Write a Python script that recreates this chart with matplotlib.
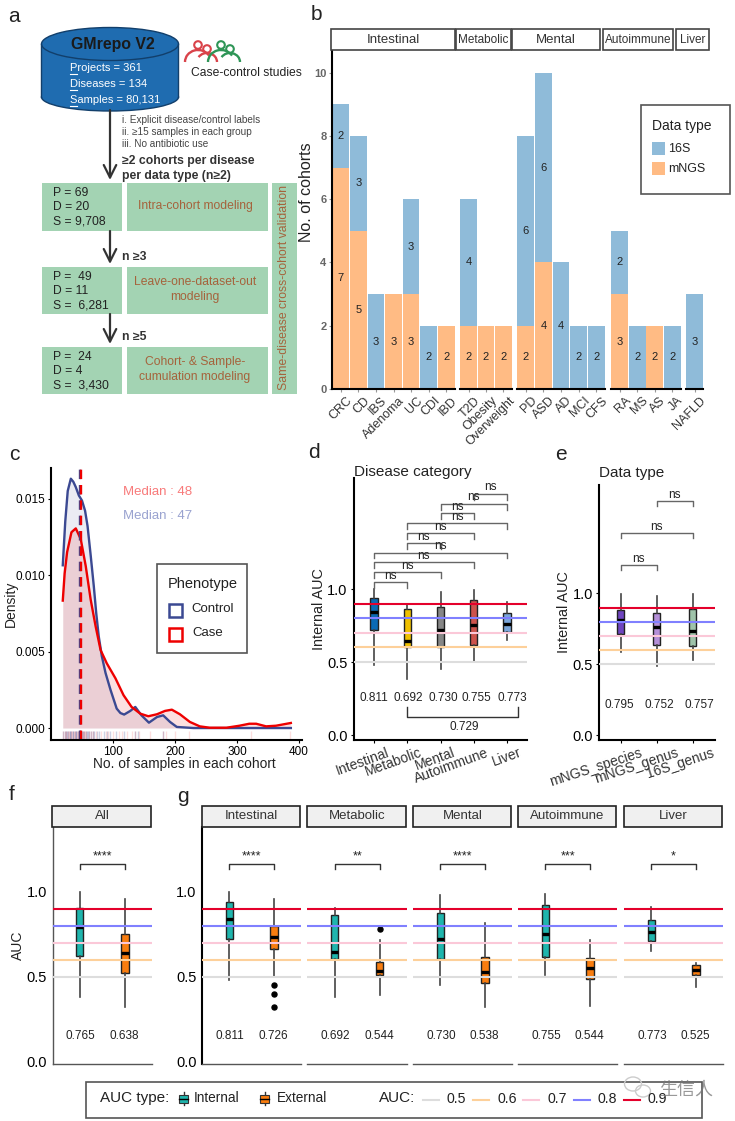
import matplotlib
matplotlib.use("Agg")
import matplotlib.pyplot as plt
from matplotlib.patches import Rectangle, Ellipse, Circle, Arc
from matplotlib.transforms import ScaledTranslation

plt.rcParams['font.family'] = ['Liberation Sans', 'Noto Sans CJK SC', 'DejaVu Sans']

W, H = 735, 1121

# ---- panel b data
b_facets = ['Intestinal', 'Metabolic', 'Mental', 'Autoimmune', 'Liver']
b_diseases = [['CRC', 'CD', 'IBS', 'Adenoma', 'UC', 'CDI', 'IBD'],
              ['T2D', 'Obesity', 'Overweight'],
              ['PD', 'ASD', 'AD', 'MCI', 'CFS'],
              ['RA', 'MS', 'AS', 'JA'],
              ['NAFLD']]
b_16s = [[2, 3, 3, 0, 3, 2, 0], [4, 0, 0], [6, 6, 4, 2, 2], [2, 2, 0, 2], [3]]
b_mngs = [[7, 5, 0, 3, 3, 0, 2], [2, 2, 2], [2, 4, 0, 0, 0], [3, 0, 2, 0], [0]]

# ---- panel c data
ctrl_x = [19, 23, 27, 32, 36, 40, 45, 50, 55, 59, 64, 69, 73, 77, 82, 88, 96, 106, 112, 118, 128, 136,
          146, 158, 171, 181, 192, 203, 230, 300, 387]
ctrl_y = [.01064, .0135, .0155, .0163, .0161, .01575, .0152, .01487, .0142, .0132, .0113, .0093, .0075, .006,
          .0047, .0036, .0025, .00127, .00098, .00088, .00112, .00138, .00083, .00035, .00072, .00083, .0004,
          .00007, 0, 0, 0]
case_x = [19, 22, 26, 33, 40, 48, 56, 64, 72, 80, 90, 104, 117, 130, 144, 157, 171, 184, 195, 208, 224, 240,
          256, 283, 304, 320, 331, 347, 363, 387]
case_y = [.00833, .0101, .0115, .0128, .01305, .01235, .0106, .0084, .00665, .0051, .00423, .00325, .00215,
          .00138, .00094, .00077, .0009, .00112, .0012, .0009, .0004, .00011, .00002, .00002, .00015, .00028,
          .00028, .00011, .00015, .00033]
rug_ctrl = [20, 22, 24, 26, 28, 30, 31, 33, 35, 36, 38, 40, 41, 43, 45, 46, 47, 48, 50, 52, 54, 56, 58, 60, 62,
            65, 68, 70, 75, 78, 85, 90, 95, 105, 118, 135, 140, 180]
rug_case = [20, 23, 25, 27, 29, 32, 34, 37, 39, 42, 44, 47, 48, 49, 51, 53, 55, 57, 61, 64, 67, 72, 80, 88, 92,
            100, 110, 115, 122, 130, 135, 142, 160, 180, 186, 200, 222, 322, 385]

# ---- panel d / e data (whislo, q1, med, q3, whishi)
d_labels = ['Intestinal', 'Metabolic', 'Mental', 'Autoimmune', 'Liver']
d_stats = [[.48, .72, .842, .938, 1.0], [.382, .60, .643, .863, .90], [.45, .60, .718, .876, .98],
           [.51, .615, .753, .924, .99], [.652, .707, .76, .835, .91]]
d_colors = ['#0a6ab5', '#efc000', '#868686', '#cd534c', '#7aa6dc']
d_means = ['0.811', '0.692', '0.730', '0.755', '0.773']
d_pairs = [(0, 1), (0, 2), (0, 3), (0, 4), (1, 2), (1, 3), (1, 4), (2, 3), (2, 4), (3, 4)]
d_heights = [1.048, 1.117, 1.183, 1.25, 1.316, 1.382, 1.449, 1.517, 1.584, 1.652]

e_labels = ['mNGS_species', 'mNGS_genus', '16S_genus']
e_stats = [[.588, .713, .816, .88, .993], [.487, .633, .76, .859, .981], [.529, .628, .736, .887, .993]]
e_colors = ['#6f45c0', '#b48fd8', '#9fc3a9']
e_means = ['0.795', '0.752', '0.757']
e_pairs = [(0, 1), (0, 2), (1, 2)]
e_heights = [1.202, 1.428, 1.654]

# ---- panel f / g data
fg_titles = ['All', 'Intestinal', 'Metabolic', 'Mental', 'Autoimmune', 'Liver']
fg_internal = [[.382, .622, .792, .902, .998], [.482, .72, .839, .939, .998], [.382, .606, .645, .861, .902],
               [.453, .606, .722, .875, .978], [.512, .618, .751, .922, .988], [.649, .708, .765, .835, .91]]
fg_external = [[.322, .52, .639, .751, .959], [.50, .661, .733, .796, .959], [.392, .51, .533, .588, .718],
               [.322, .461, .527, .614, .816], [.331, .49, .551, .608, .718], [.443, .508, .541, .567, .58]]
fg_fliers_ext = [[], [.451, .40, .322], [.78], [], [], []]
fg_mean_int = ['0.765', '0.811', '0.692', '0.730', '0.755', '0.773']
fg_mean_ext = ['0.638', '0.726', '0.544', '0.538', '0.544', '0.525']
fg_stars = ['****', '****', '**', '****', '***', '*']

auc_levels = [0.5, 0.6, 0.7, 0.8, 0.9]
auc_colors = ['#dddddd', '#fdd09a', '#fbc8d8', '#8080ff', '#e4002b']
col_int, col_ext = '#1fb5ad', '#f97d0f'


def ax_px(l, t, r, b):
    return fig.add_axes([l / W, 1 - b / H, (r - l) / W, (b - t) / H])


def T(x, y, s, size=8, color='#222222', ha='left', va='center', **kw):
    ov.text(x, y, s, fontsize=size, color=color, ha=ha, va=va, **kw)


def style(ax, lw=1.5, color='black'):
    ax.spines['top'].set_visible(False)
    ax.spines['right'].set_visible(False)
    ax.spines['left'].set_linewidth(lw)
    ax.spines['bottom'].set_linewidth(lw)
    ax.spines['left'].set_color(color)
    ax.spines['bottom'].set_color(color)
    ax.patch.set_alpha(0)


def shift_labels(ax, px):
    # has to come after tick_params, which resets the label transform
    for lab in ax.get_xticklabels():
        lab.set_transform(lab.get_transform() + ScaledTranslation(px / 100, 0, fig.dpi_scale_trans))


def boxes(ax, stats, colors, width, fliers=None):
    for i, s in enumerate(stats):
        d = {'whislo': s[0], 'q1': s[1], 'med': s[2], 'q3': s[3], 'whishi': s[4],
             'fliers': fliers[i] if fliers else []}
        ax.bxp([d], positions=[i], widths=width, patch_artist=True, showcaps=False, manage_ticks=False,
               boxprops=dict(facecolor=colors[i], edgecolor='#222222', linewidth=1),
               medianprops=dict(color='black', linewidth=2.4, solid_capstyle='butt'),
               whiskerprops=dict(color='#444444', linewidth=1.2),
               flierprops=dict(marker='o', markerfacecolor='black', markeredgecolor='black', markersize=3.6))


def auc_lines(ax):
    for v, c in zip(auc_levels, auc_colors):
        ax.axhline(v, color=c, lw=1.5, zorder=5)


def brackets(ax, pairs, heights, tip, label_up):
    for (a, b), h in zip(pairs, heights):
        ax.plot([a, a, b, b], [h - tip, h, h, h - tip], color='#666666', lw=1, clip_on=False)
        ax.text((a + b) / 2, h + label_up, 'ns', ha='center', va='center', fontsize=8.5, color='#222222')


fig = plt.figure(figsize=(W / 100, H / 100), dpi=100)

# overlay in pixel coordinates for panel a, legends and labels
ov = fig.add_axes([0, 0, 1, 1], zorder=20)
ov.set_xlim(0, W)
ov.set_ylim(H, 0)
ov.axis('off')

# ---- panel a
blue, blue_dark = '#1f6cb0', '#123f6b'
ov.add_patch(Ellipse((110, 97), 137, 28, fc=blue, ec=blue_dark, lw=1))
ov.add_patch(Rectangle((41.5, 44), 137, 53, fc=blue, ec='none'))
ov.plot([41.5, 41.5], [44, 97], color=blue_dark, lw=1)
ov.plot([178.5, 178.5], [44, 97], color=blue_dark, lw=1)
ov.add_patch(Ellipse((110, 44), 137, 33, fc=blue, ec=blue_dark, lw=1))
T(113, 45, 'GMrepo V2', 11.4, '#1a1a1a', ha='center', fontweight='bold')
for y, first, rest in [(68, 'P', 'rojects = 361'), (84, 'D', 'iseases = 134'), (100, 'S', 'amples = 80,131')]:
    ov.text(70, y, first + rest, fontsize=8, color='white', va='center')
    ov.plot([70, 77], [y + 5.5, y + 5.5], color='white', lw=0.8)

for cx, col in [(198, '#d9434a'), (221, '#2e9556')]:
    ov.add_patch(Circle((cx, 45), 3.8, fc='none', ec=col, lw=1.5))
    ov.add_patch(Circle((cx + 9, 49), 3.8, fc='none', ec=col, lw=1.5))
    ov.add_patch(Arc((cx, 62), 26, 24, theta1=180, theta2=330, ec=col, lw=1.7))
    ov.add_patch(Arc((cx + 9, 62), 20, 18, theta1=210, theta2=360, ec=col, lw=1.7))
T(191, 72.5, 'Case-control studies', 8.7, '#222222')
T(122, 120, 'i. Explicit disease/control labels', 7.2, '#444444')
T(122, 132, 'ii. ≥15 samples in each group', 7.2, '#444444')
T(122, 144, 'iii. No antibiotic use', 7.2, '#444444')
T(122, 161, '≥2 cohorts per disease', 8.8, '#333333', fontweight='bold')
T(122, 176, 'per data type (n≥2)', 8.8, '#333333', fontweight='bold')
T(122, 257, 'n ≥3', 8.8, '#333333', fontweight='bold')
T(122, 337, 'n ≥5', 8.8, '#333333', fontweight='bold')

for y0, y1 in [(110, 180), (231, 264), (314, 344)]:
    ov.annotate('', xy=(110, y1), xytext=(110, y0),
                arrowprops=dict(arrowstyle='->,head_width=0.45,head_length=0.9', color='#333333', lw=1.6,
                                shrinkA=0, shrinkB=0))

green = '#a3d3b3'
brown = '#a5633c'
rows = [(183, 231, ['P = 69', 'D = 20', 'S = 9,708'], 'Intra-cohort modeling'),
        (267, 314, ['P =  49', 'D = 11', 'S =  6,281'], 'Leave-one-dataset-out\nmodeling'),
        (347, 394, ['P =  24', 'D = 4', 'S =  3,430'], 'Cohort- & Sample-\ncumulation modeling')]
for top, bot, lines, title in rows:
    ov.add_patch(Rectangle((42, top), 80, bot - top, fc=green, ec='none'))
    ov.add_patch(Rectangle((127, top), 141, bot - top, fc=green, ec='none'))
    for k, line in enumerate(lines):
        T(53, top + 10 + k * 14.5, line, 8.7, '#222222')
    T(195, (top + bot) / 2 - 1, title, 8.7, brown, ha='center', linespacing=1.25)
ov.add_patch(Rectangle((272, 183), 25, 211, fc=green, ec='none'))
T(284, 288, 'Same-disease cross-cohort validation', 8.8, brown, ha='center', rotation=90)

# ---- panel b
b_px = [(332, 455), (460, 512), (517, 605), (611, 681), (686, 703)]
strip_px = [(331, 455), (456, 511), (512, 600), (603, 673), (676, 709)]
for i, (l, r) in enumerate(b_px):
    ax = ax_px(l, 41, r, 389)
    xs = list(range(len(b_diseases[i])))
    ax.bar(xs, b_mngs[i], width=0.95, color='#ffbb84')
    ax.bar(xs, b_16s[i], width=0.95, bottom=b_mngs[i], color='#8fbbd9')
    for x, m, s in zip(xs, b_mngs[i], b_16s[i]):
        if m:
            ax.text(x, m / 2, str(m), ha='center', va='center', fontsize=8, color='#222222')
        if s:
            ax.text(x, m + s / 2, str(s), ha='center', va='center', fontsize=8, color='#222222')
    ax.set_xlim(-0.5, len(xs) - 0.5)
    ax.set_ylim(0, 11)
    style(ax)
    ax.set_xticks(xs)
    ax.set_xticklabels(b_diseases[i], rotation=45, ha='right', rotation_mode='anchor', fontsize=9, color='#333333')
    ax.tick_params(axis='x', length=2, width=0.8, color='#999999', pad=2)
    shift_labels(ax, 5)
    if i == 0:
        ax.set_yticks([0, 2, 4, 6, 8, 10])
        ax.tick_params(axis='y', length=2, width=0.8, color='#999999', labelsize=8, labelcolor='#666666', pad=2)
        for lab in ax.get_yticklabels():
            lab.set_fontweight('bold')
    else:
        ax.spines['left'].set_visible(False)
        ax.set_yticks([])
    sl, sr = strip_px[i]
    ov.add_patch(Rectangle((sl, 29), sr - sl, 21, fc='white', ec='#444444', lw=1.2))
    T((sl + sr) / 2, 40, b_facets[i], 9.5 if i in (0, 2) else 8.5, '#333333', ha='center')
T(307, 192, 'No. of cohorts', 11.5, '#222222', ha='center', rotation=90)
ov.add_patch(Rectangle((641, 105), 89, 89, fc='white', ec='#555555', lw=1.2))
T(652, 126, 'Data type', 10, '#222222')
ov.add_patch(Rectangle((652, 142), 13, 13, fc='#8fbbd9', ec='none'))
ov.add_patch(Rectangle((652, 162), 13, 13, fc='#ffbb84', ec='none'))
T(668, 149, '16S', 9, '#222222')
T(668, 169, 'mNGS', 9, '#222222')

# ---- panel c
ax = ax_px(51, 468, 302, 739.5)
navy, red = '#3b4992', '#ee0000'
ax.fill_between(ctrl_x, ctrl_y, color=navy, alpha=0.1, lw=0)
ax.fill_between(case_x, case_y, color=red, alpha=0.12, lw=0)
ax.plot(ctrl_x, ctrl_y, color=navy, lw=1.7)
ax.plot(case_x, case_y, color=red, lw=1.7)
ax.vlines(rug_ctrl, -0.00075, -0.0002, color=navy, alpha=0.25, lw=1)
ax.vlines(rug_case, -0.00075, -0.0002, color=red, alpha=0.13, lw=1)
ax.axvline(47, color=navy, lw=1.7, ls=(0, (4, 2.5)))
ax.axvline(48, color=red, lw=1.7, ls=(0, (4, 2.5)))
ax.set_xlim(0, 405)
ax.set_ylim(-0.00075, 0.017)
style(ax)
ax.set_xticks([100, 200, 300, 400])
ax.set_yticks([0, 0.005, 0.01, 0.015])
ax.set_yticklabels(['0.000', '0.005', '0.010', '0.015'])
ax.tick_params(labelsize=8.5, length=2.5, pad=2)
ax.set_xlabel('No. of samples in each cohort', fontsize=9.9, color='#222222')
ax.set_ylabel('Density', fontsize=10, color='#222222')
ax.xaxis.set_label_coords(0.53, -0.066)
ax.yaxis.set_label_coords(-0.133, 0.5)
T(123, 492, 'Median : 48', 9.5, '#f87a7a')
T(123, 516, 'Median : 47', 9.5, '#9aa3d0')
ov.add_patch(Rectangle((157, 564), 90, 89, fc='white', ec='#555555', lw=1.2))
T(168, 584, 'Phenotype', 10.5, '#222222')
ov.add_patch(Rectangle((169, 604), 13, 13, fc='white', ec=navy, lw=1.8))
ov.add_patch(Rectangle((169, 628), 13, 13, fc='white', ec=red, lw=1.8))
T(191, 609.5, 'Control', 9.5, '#222222')
T(192, 633.5, 'Case', 9.5, '#222222')

# ---- panel d
ax = ax_px(354, 478, 527, 739.5)
boxes(ax, d_stats, d_colors, 0.22)
auc_lines(ax)
brackets(ax, d_pairs, d_heights, 0.04, 0.043)
for i, m in enumerate(d_means):
    ax.text(i + [0, 0.04, 0.07, 0.07, 0.16][i], 0.256, m, ha='center', va='center', fontsize=8.5, color='#222222')
ax.plot([1, 1, 4.34, 4.34], [0.19, 0.121, 0.121, 0.19], color='#333333', lw=1)
ax.text(2.71, 0.053, '0.729', ha='center', va='center', fontsize=8.5, color='#222222')
ax.set_xlim(-0.6, 4.6)
ax.set_ylim(-0.03, 1.76)
style(ax)
ax.set_xticks(range(5))
ax.set_xticklabels(d_labels, rotation=20, ha='right', rotation_mode='anchor', fontsize=10, color='#333333')
ax.set_yticks([0, 0.5, 1.0])
ax.set_yticklabels(['0.0', '0.5', '1.0'])
ax.tick_params(axis='y', labelsize=10.5, length=2.5, pad=2)
ax.tick_params(axis='x', length=2.5, pad=2)
shift_labels(ax, 12)
ax.set_ylabel('Internal AUC', fontsize=10.4, color='#222222')
ax.yaxis.set_label_coords(-0.163, 0.5)
T(354, 472, 'Disease category', 11, '#222222')

# ---- panel e
ax = ax_px(599, 485, 715, 739.5)
boxes(ax, e_stats, e_colors, 0.2)
auc_lines(ax)
brackets(ax, e_pairs, e_heights, 0.04, 0.043)
for i, m in enumerate(e_means):
    ax.text(i + [-0.03, 0.07, 0.18][i], 0.216, m, ha='center', va='center', fontsize=8.5, color='#222222')
ax.set_xlim(-0.6, 2.62)
ax.set_ylim(-0.03, 1.765)
style(ax)
ax.set_xticks(range(3))
ax.set_xticklabels(e_labels, rotation=18, ha='right', rotation_mode='anchor', fontsize=10, color='#333333')
ax.set_yticks([0, 0.5, 1.0])
ax.set_yticklabels(['0.0', '0.5', '1.0'])
ax.tick_params(axis='y', labelsize=10.5, length=2.5, pad=2)
ax.tick_params(axis='x', length=2.5, pad=2)
shift_labels(ax, 19)
ax.set_ylabel('Internal AUC', fontsize=10.4, color='#222222')
ax.yaxis.set_label_coords(-0.242, 0.5)
T(599, 473, 'Data type', 11, '#222222')

# ---- panels f, g
fg_px = [(52.5, 152), (202, 301), (307, 407), (413, 512), (518, 617), (624, 723)]
for i, (l, r) in enumerate(fg_px):
    ax = ax_px(l, 827, r, 1064)
    boxes(ax, [fg_internal[i], fg_external[i]], [col_int, col_ext], 0.16,
          fliers=[[], fg_fliers_ext[i]])
    auc_lines(ax)
    ax.plot([0, 0, 1, 1], [1.135, 1.161, 1.161, 1.135], color='#333333', lw=1)
    ax.text(0.5, 1.205, fg_stars[i], ha='center', va='center', fontsize=9, color='#222222')
    ax.text(0.02, 0.151, fg_mean_int[i], ha='center', va='center', fontsize=8.5, color='#222222')
    ax.text(0.99, 0.151, fg_mean_ext[i], ha='center', va='center', fontsize=8.5, color='#222222')
    ax.set_xlim(-0.607, 1.6)
    ax.set_ylim(-0.012, 1.38)
    style(ax, lw=1, color='#555555')
    ax.set_xticks([])
    if i < 2:
        ax.set_yticks([0, 0.5, 1.0])
        ax.set_yticklabels(['0.0', '0.5', '1.0'])
        ax.tick_params(axis='y', labelsize=10.5, length=0, pad=4)
        if i == 1:
            ax.spines['left'].set_linewidth(1.5)
            ax.spines['left'].set_color('black')
    else:
        ax.spines['left'].set_visible(False)
        ax.set_yticks([])
    if i == 0:
        ax.set_ylabel('AUC', fontsize=10, color='#222222')
        ax.yaxis.set_label_coords(-0.28, 0.5)
    ov.add_patch(Rectangle((l, 806), r - l - 1, 21, fc='#f0f0f0', ec='#222222', lw=1.2))
    T((l + r) / 2, 816, fg_titles[i], 9.5, '#333333', ha='center')

# ---- bottom legend
ov.add_patch(Rectangle((86, 1082), 616, 36, fc='white', ec='#555555', lw=1.2))
T(100, 1098, 'AUC type:', 11, '#222222')
for x, col, name, tx in [(184, col_int, 'Internal', 194), (265, col_ext, 'External', 277)]:
    ov.plot([x, x], [1092, 1105], color='#333333', lw=1)
    ov.add_patch(Rectangle((x - 4.5, 1095), 9, 8, fc=col, ec='#333333', lw=0.8, zorder=3))
    ov.plot([x - 4.5, x + 4.5], [1099, 1099], color='black', lw=1, zorder=4)
    T(tx, 1098.5, name, 9.8, '#222222')
T(379, 1098, 'AUC:', 11, '#222222')
for k, (v, c) in enumerate(zip(auc_levels, auc_colors)):
    x0 = 423 + k * 50.2
    ov.plot([x0, x0 + 16], [1100, 1100], color=c, lw=1.5)
    T(x0 + 24, 1099, str(v), 10.2, '#222222')

# watermark
ov.add_patch(Ellipse((633, 1084), 17, 14, fc='none', ec='#cccccc', lw=1))
ov.add_patch(Ellipse((643, 1091), 15, 12, fc='none', ec='#cccccc', lw=1))
T(659, 1090, '生信人', 13, '#777777', alpha=0.75)

# panel letters
for x, y, s in [(14, 17, 'a'), (316, 15, 'b'), (14, 454, 'c'), (314, 453, 'd'), (561, 454, 'e'), (12, 795, 'f'),
                (183, 797, 'g')]:
    T(x, y, s, 15, '#222222', ha='center')

fig.savefig('out.png', dpi=100)
